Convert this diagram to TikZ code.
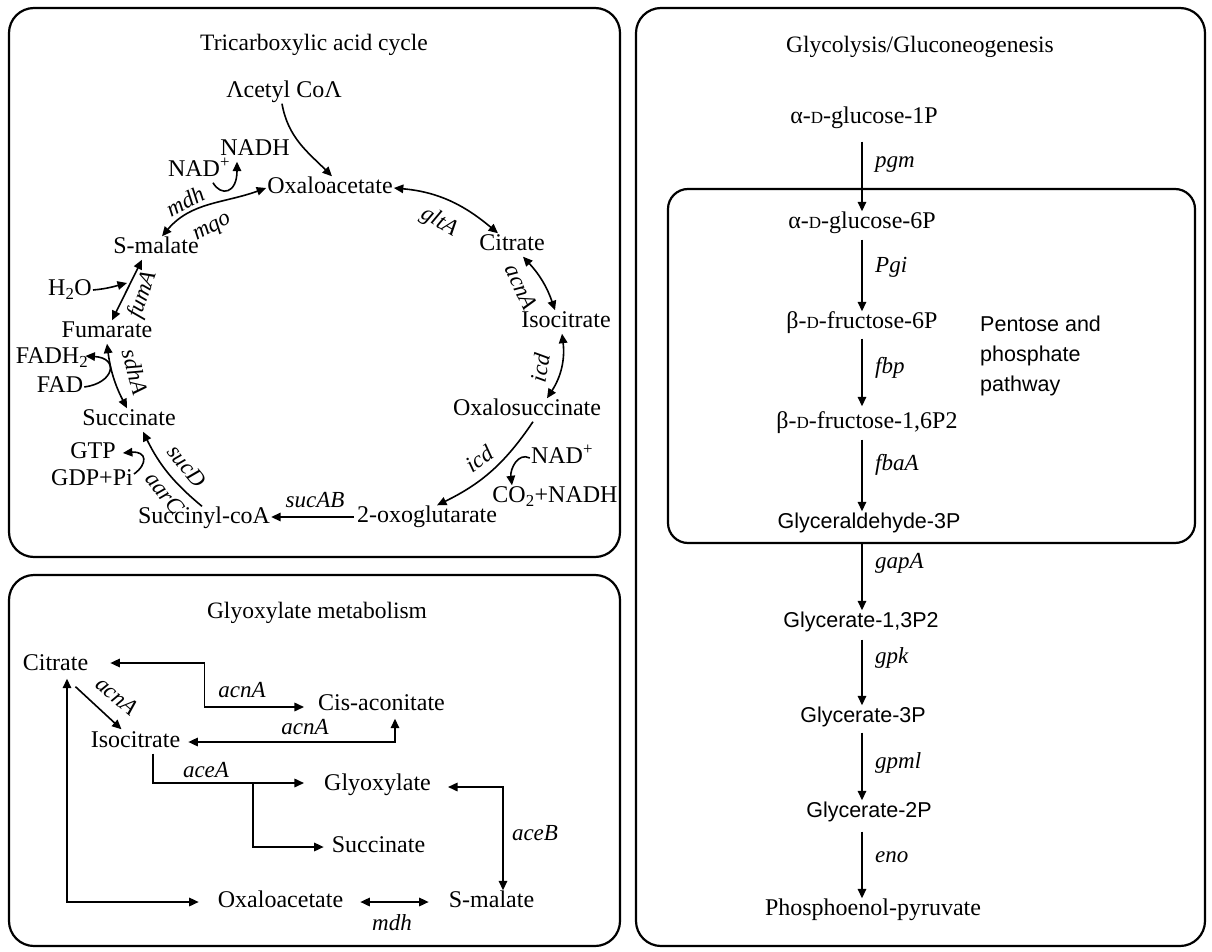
\documentclass[tikz,border=0pt]{standalone}
\usepackage{fontspec}
\setmainfont{Liberation Serif}
\newfontfamily\sansf{Liberation Sans}
\usetikzlibrary{arrows.meta,calc}
\newcommand{\smD}{{\fontsize{17}{20}\selectfont D}}
\tikzset{
  lbl/.style={font=\fontsize{24}{28}\selectfont, inner sep=1pt, text height=16pt, text depth=5pt},
  slbl/.style={font=\sansf\fontsize{21.5}{28}\selectfont, inner sep=1pt, text height=16pt, text depth=5pt},
  enz/.style={font=\itshape\fontsize{23}{26}\selectfont, inner sep=0pt},
  ttl/.style={font=\fontsize{23.5}{28}\selectfont, inner sep=0pt},
  ln/.style={line width=1.6pt},
  arr/.style={ln, -{Triangle[length=9.5pt,width=8.5pt]}},
  darr/.style={ln, {Triangle[length=9.5pt,width=8.5pt]}-{Triangle[length=9.5pt,width=8.5pt]}},
  panel/.style={line width=2.2pt, rounded corners=25pt},
}
\begin{document}
\begin{tikzpicture}[x=1pt,y=1pt]
\useasboundingbox[fill=white] (0,0) rectangle (1212,-952);
% panels
\draw[panel] (9,-8) rectangle (620,-557);
\draw[panel] (9,-575) rectangle (620,-946);
\draw[panel] (636,-8) rectangle (1205,-946);
\draw[panel, rounded corners=20pt] (668,-189) rectangle (1195,-543);

% ---------------- TCA cycle ----------------
\node[ttl] (tcaT) at (314,-45) {Tricarboxylic acid cycle};
\node[lbl] (acetyl) at (284,-92) {Λcetyl CoΛ};
\node[lbl] (oxa) at (330,-188) {Oxaloacetate};
\node[lbl] (cit) at (512,-245) {Citrate};
\node[lbl] (iso) at (566,-322) {Isocitrate};
\node[lbl] (oxs) at (527,-410) {Oxalosuccinate};
\node[lbl] (nadR) at (562,-458) {NAD\textsuperscript{+}};
\node[lbl] (co2) at (555,-497) {CO\textsubscript{2}+NADH};
\node[lbl] (oxg) at (427,-517) {2-oxoglutarate};
\node[lbl] (scoa) at (204,-518) {Succinyl-coA};
\node[lbl] (gdp) at (92,-480) {GDP+Pi};
\node[lbl] (gtp) at (93,-453) {GTP};
\node[lbl] (succ) at (129,-420) {Succinate};
\node[lbl] (fad) at (60,-387) {FAD};
\node[lbl] (fadh) at (52,-358) {FADH\textsubscript{2}};
\node[lbl] (fum) at (107,-332) {Fumarate};
\node[lbl] (h2o) at (70,-290) {H\textsubscript{2}O};
\node[lbl] (smal) at (156,-248) {S-malate};
\node[lbl] (nadL) at (199,-171) {NAD\textsuperscript{+}};
\node[lbl] (nadh) at (255,-150) {NADH};
\coordinate (h2oTip) at (127,-283);

\draw[arr] ([xshift=-2pt]acetyl.south) to[out=-80,in=135] ([xshift=2pt]oxa.north);
\draw[darr] ([xshift=6pt]smal.north) to[out=50,in=200] (oxa.west);
\draw[arr] ([xshift=14pt]nadL.south) .. controls +(8,-14) and +(0,-32) .. ([xshift=-18pt]nadh.south);
\node[enz, rotate=28] (mdhT) at (185,-201) {mdh};
\node[enz, rotate=28] (mqoT) at (213,-229) {mqo};
\draw[darr] (oxa.east) to[out=-5,in=140] ([xshift=-14pt]cit.north);
\node[enz, rotate=-30] (gltT) at (439,-222) {gltA};
\draw[darr] ([xshift=11pt]cit.south) to[bend left=12] ([xshift=-11pt]iso.north);
\node[enz, rotate=-65] (acnT) at (521,-287) {acnA};
\draw[darr] ([xshift=-4pt]iso.south) to[bend left=20] ([xshift=20pt]oxs.north);
\node[enz, rotate=80] (icdT1) at (540,-368) {icd};
\draw[arr] ([xshift=6pt]oxs.south) to[bend left=15] ([xshift=10pt]oxg.north);
\node[enz, rotate=35] (icdT2) at (479,-459) {icd};
\draw[arr] (nadR.west) .. controls +(-12,6) and +(-2,16) .. ([xshift=-43pt]co2.north);
\draw[arr] ([xshift=-2pt]oxg.west) -- (oxg.west -| scoa.east);
\node[enz] (sucABT) at (315,-500) {sucAB};
\draw[arr] ([xshift=-2pt]scoa.north) to[bend left=12] ([xshift=14pt]succ.south);
\draw[arr] ([yshift=6pt]gdp.east) .. controls +(14,10) and +(24,2) .. ([xshift=6pt]gtp.east);
\node[enz, rotate=-50] (sucDT) at (187,-466) {sucD};
\node[enz, rotate=-50] (aarCT) at (165,-493) {aarC};
\draw[darr] (fum.south) to[bend right=10] ([xshift=-2pt]succ.north);
\draw[arr] (fad.east) .. controls +(30,4) and +(34,-2) .. ([xshift=-4pt,yshift=2pt]fadh.east);
\node[enz, rotate=-75] (sdhT) at (135,-372) {sdhA};
\draw[darr] ([xshift=5pt]fum.north) -- ([xshift=-14pt]smal.south);
\draw[arr] (h2o.east) to[out=5,in=195] (h2oTip);
\node[enz, rotate=70] (fumT) at (143,-295) {fumA};

% ---------------- Glyoxylate ----------------
\node[ttl] (glyT) at (317,-613) {Glyoxylate metabolism};
\node[lbl] (gCit) at (55.5,-665) {Citrate};
\node[lbl] (gIso) at (135.5,-742) {Isocitrate};
\node[lbl] (gCis) at (381.5,-705) {Cis-aconitate};
\node[lbl] (gGly) at (377.5,-785) {Glyoxylate};
\node[lbl] (gSuc) at (378.5,-847) {Succinate};
\node[lbl] (gOxa) at (280.5,-902) {Oxaloacetate};
\node[lbl] (gMal) at (491.5,-902) {S-malate};
\coordinate (br) at (253,-783);

\draw[darr] ([xshift=21pt,yshift=2pt]gCit.east) -- ++(94,0) -- ++(0,-44) -- ([xshift=-13pt,yshift=-2pt]gCis.west);
\node[enz] (acnG1) at (242,-690) {acnA};
\draw[arr] ([shift={(20,-10)}]gCit.south) -- ([shift={(-14,1)}]gIso.north);
\node[enz, rotate=-40] (acnG2) at (117,-696) {acnA};
\draw[darr] ([xshift=7pt]gIso.east) -| ([xshift=13.5pt,yshift=-2pt]gCis.south);
\node[enz] (acnG3) at (305,-727) {acnA};
\draw[arr] ([xshift=17.5pt]gIso.south) |- ([xshift=-19pt,yshift=2pt]gGly.west);
\draw[arr] (br) |- ([xshift=-7pt]gSuc.west);
\node[enz] (aceAT) at (206,-770) {aceA};
\draw[darr] ([xshift=16pt,yshift=-2pt]gGly.east) -| ([xshift=11.5pt]gMal.north);
\node[enz] (aceBT) at (535,-833) {aceB};
\draw[darr] ([xshift=16pt]gOxa.east) -- ([xshift=-19pt]gMal.west);
\node[enz] (mdhG) at (392,-923) {mdh};
\draw[darr] ([xshift=11.5pt,yshift=-2pt]gCit.south) |- ([xshift=-18pt]gOxa.west);

% ---------------- Glycolysis ----------------
\node[ttl] (glcT) at (920,-47) {Glycolysis/Gluconeogenesis};
\coordinate (ax) at (862,0);
\node[lbl] (g1) at (864,-118) {α-\smD-glucose-1P};
\node[lbl] (g2) at (862,-223) {α-\smD-glucose-6P};
\node[lbl] (g3) at (862,-323) {β-\smD-fructose-6P};
\node[lbl] (g4) at (867,-423) {β-\smD-fructose-1,6P2};
\node[slbl] (g5) at (869,-523) {Glyceraldehyde-3P};
\node[slbl] (g6) at (861,-622) {Glycerate-1,3P2};
\node[slbl] (g7) at (863,-717) {Glycerate-3P};
\node[slbl] (g8) at (869,-812) {Glycerate-2P};
\node[lbl] (g9) at (873,-910) {Phosphoenol-pyruvate};
\node[font=\sansf\fontsize{21.5}{30}\selectfont, anchor=north west, align=left, inner sep=0pt] (ppp) at (980,-316) {Pentose and\\phosphate\\pathway};

\draw[arr, shorten <=12pt] (g1.south -| ax) -- (g2.north -| ax);
\draw[arr, shorten <=5pt] (g2.south -| ax) -- (g3.north -| ax);
\draw[arr, shorten <=4pt] (g3.south -| ax) -- ([yshift=5pt]g4.north -| ax);
\draw[arr, shorten <=5pt] (g4.south -| ax) -- (g5.north -| ax);
\draw[arr, shorten <=8pt] (g5.south -| ax) -- (g6.north -| ax);
\draw[arr, shorten <=6pt] (g6.south -| ax) -- (g7.north -| ax);
\draw[arr, shorten <=4pt] (g7.south -| ax) -- (g8.north -| ax);
\draw[arr, shorten <=8pt] (g8.south -| ax) -- (g9.north -| ax);
\node[enz, anchor=west] (pgm) at (875,-165) {pgm};
\node[enz, anchor=west] (pgi) at (875,-267) {Pgi};
\node[enz, anchor=west] (fbp) at (875,-368) {fbp};
\node[enz, anchor=west] (fbaA) at (875,-465) {fbaA};
\node[enz, anchor=west] (gapA) at (875,-563) {gapA};
\node[enz, anchor=west] (gpk) at (875,-658) {gpk};
\node[enz, anchor=west] (gpml) at (875,-763) {gpml};
\node[enz, anchor=west] (eno) at (875,-857) {eno};
\end{tikzpicture}
\end{document}
